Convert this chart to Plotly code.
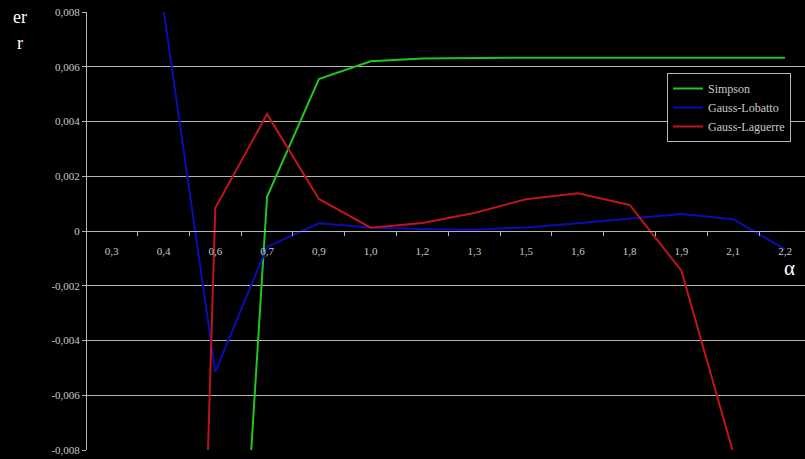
import plotly.graph_objects as go

categories = ["0,3", "0,4", "0,6", "0,7", "0,9", "1,0", "1,2", "1,3", "1,5", "1,6", "1,8", "1,9", "2,1", "2,2"]
simpson = [None, None, -0.029, 0.00125, 0.00555, 0.0062, 0.0063, 0.00632, 0.00633, 0.00633, 0.00633, 0.00633, 0.00633, 0.00633]
gauss_lobatto = [None, 0.0081, -0.00515, -0.00058, 0.00028, 0.00013, 0.00007, 0.00005, 0.00013, 0.00028, 0.00046, 0.00062, 0.00043, -0.00067]
gauss_laguerre = [None, -0.062, 0.00084, 0.00427, 0.00117, 0.00012, 0.00029, 0.00066, 0.00116, 0.00138, 0.00095, -0.00145, -0.0081, None]
y_ticks = [-0.008, -0.006, -0.004, -0.002, 0, 0.002, 0.004, 0.006, 0.008]
y_ticktext = ["-0,008", "-0,006", "-0,004", "-0,002", "0", "0,002", "0,004", "0,006", "0,008"]

x_idx = list(range(len(categories)))
W, H = 805, 459
ml, mr, mt, mb = 87, 0, 12, 9
grey = "#b4b4b4"
txt = "#c8c8c8"
font = "Liberation Serif"
PW, PH = W - ml - mr, H - mt - mb

fig = go.Figure()
fig.add_trace(go.Scatter(x=x_idx, y=simpson, mode="lines", name="Simpson",
                         line=dict(color="#22c41e", width=2), connectgaps=False))
fig.add_trace(go.Scatter(x=x_idx, y=gauss_lobatto, mode="lines", name="Gauss-Lobatto",
                         line=dict(color="#0c0cb4", width=2), connectgaps=False))
fig.add_trace(go.Scatter(x=x_idx, y=gauss_laguerre, mode="lines", name="Gauss-Laguerre",
                         line=dict(color="#c0141c", width=2), connectgaps=False))

fig.update_layout(
    width=W, height=H,
    margin=dict(l=ml, r=mr, t=mt, b=mb, pad=0, autoexpand=False),
    paper_bgcolor="black", plot_bgcolor="black",
    font=dict(family=font, color=txt, size=11),
    showlegend=True,
    legend=dict(x=(667 - ml) / PW, y=(H - mb - 73) / PH,
                xanchor="left", yanchor="top",
                bgcolor="black", bordercolor=grey, borderwidth=1,
                font=dict(family=font, size=12, color=txt),
                itemwidth=30, tracegroupgap=0),
    xaxis=dict(range=[-0.477, 13.386], tickmode="array", tickvals=x_idx, ticktext=categories,
               showgrid=False, zeroline=False, showline=True, linecolor=grey, linewidth=1,
               anchor="free", position=0.5, ticks="", ticklabelstandoff=10,
               tickfont=dict(family=font, size=11, color=txt),
               minor=dict(tick0=0.5, dtick=1, ticks="outside", ticklen=4, tickcolor=grey, showgrid=False)),
    yaxis=dict(range=[-0.008, 0.008], tickmode="array", tickvals=y_ticks, ticktext=y_ticktext,
               showgrid=True, gridcolor=grey, gridwidth=1, zeroline=False,
               showline=True, linecolor=grey, linewidth=1,
               ticks="outside", ticklen=4, tickcolor=grey,
               tickfont=dict(family=font, size=11, color=txt)),
)

fig.add_annotation(text="er", xref="paper", yref="paper", x=(20 - ml) / PW,
                   y=(H - mb - 17) / PH, showarrow=False, xanchor="center", yanchor="middle",
                   font=dict(family=font, size=18, color="white"))
fig.add_annotation(text="r", xref="paper", yref="paper", x=(20 - ml) / PW,
                   y=(H - mb - 43) / PH, showarrow=False, xanchor="center", yanchor="middle",
                   font=dict(family=font, size=18, color="white"))
fig.add_annotation(text="α", xref="paper", yref="paper", x=(789 - ml) / PW,
                   y=(H - mb - 268) / PH, showarrow=False, xanchor="center", yanchor="middle",
                   font=dict(family=font, size=21, color="white"))

fig.write_html("out.html", config={"displayModeBar": False},
               post_script="document.body.style.margin='0';document.body.style.background='black';")
